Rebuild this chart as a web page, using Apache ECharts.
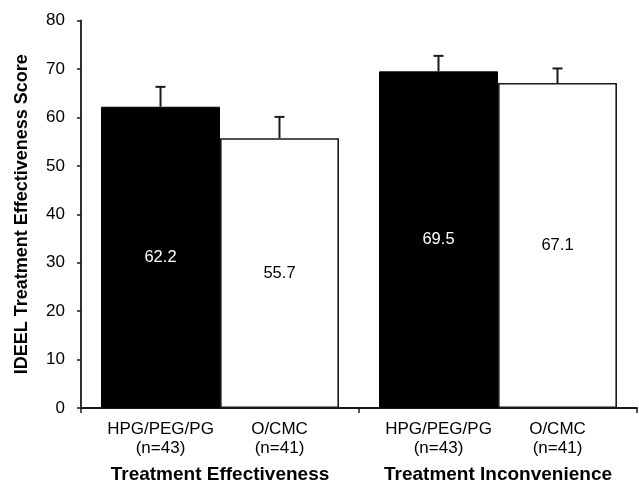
<!DOCTYPE html>
<html>
<head>
<meta charset="utf-8">
<script src="https://cdn.jsdelivr.net/npm/echarts@6/dist/echarts.min.js"></script>
<style>
html,body{margin:0;padding:0;background:#fff;}
#chart{width:639px;height:485px;}
</style>
</head>
<body>
<div id="chart"></div>
<script>
const groups = ['Treatment Effectiveness', 'Treatment Inconvenience'];
const treatments = ['HPG/PEG/PG', 'O/CMC'];
const sampleSizes = ['(n=43)', '(n=41)'];
const hpgScores = [62.2, 69.5];
const ocmcScores = [55.7, 67.1];
const hpgErrors = [4.1, 3.2];
const ocmcErrors = [4.4, 3.0];
const yTickValues = [0, 10, 20, 30, 40, 50, 60, 70, 80];
const yTitle = 'IDEEL Treatment Effectiveness Score';

const FONT = '"Liberation Sans", Arial, sans-serif';
const BAR_W = 119;
const INK = '#1a1a1a';

function errorSeries(scores, errors, seriesIdx) {
  const sign = seriesIdx === 0 ? -1 : 1;
  return {
    type: 'custom',
    z: 5,
    clip: false,
    data: scores.map((v, i) => [i, v, errors[i]]),
    renderItem: function (params, api) {
      const cat = api.value(0);
      const val = api.value(1);
      const err = api.value(2);
      const base = api.coord([cat, val]);
      const top = api.coord([cat, val + err]);
      const zero = api.coord([cat, 0]);
      const x = base[0] + sign * BAR_W / 2;
      return {
        type: 'group',
        children: [
          { type: 'line', shape: { x1: x, y1: base[1], x2: x, y2: top[1] },
            style: { stroke: INK, lineWidth: 2 } },
          { type: 'line', shape: { x1: x - 5, y1: top[1], x2: x + 5, y2: top[1] },
            style: { stroke: INK, lineWidth: 2 } },
          { type: 'text', x: x, y: zero[1] + 12,
            style: { text: treatments[seriesIdx] + '\n' + sampleSizes[seriesIdx],
              fill: '#000', font: '17px ' + FONT, align: 'center', verticalAlign: 'top',
              lineHeight: 19 } }
        ]
      };
    }
  };
}

const chart = echarts.init(document.getElementById('chart'), null, { renderer: 'canvas' });
chart.setOption({
  animation: false,
  backgroundColor: '#fff',
  textStyle: { fontFamily: FONT },
  grid: { left: 81, right: 2, top: 20.5, bottom: 77, containLabel: false },
  xAxis: {
    type: 'category',
    data: groups,
    boundaryGap: true,
    axisLine: { lineStyle: { color: INK, width: 1.8 } },
    axisTick: { show: true, length: 5, lineStyle: { color: INK, width: 1.5 } },
    axisLabel: { interval: 0, margin: 56, fontSize: 19, fontWeight: 'bold', color: '#000', fontFamily: FONT, lineHeight: 21 },
    splitLine: { show: false }
  },
  yAxis: {
    type: 'value',
    min: yTickValues[0],
    max: yTickValues[yTickValues.length - 1],
    interval: yTickValues[1] - yTickValues[0],
    name: yTitle,
    nameLocation: 'middle',
    nameGap: 50,
    nameTextStyle: { fontSize: 18, fontWeight: 'bold', color: '#000', fontFamily: FONT },
    axisLine: { show: true, lineStyle: { color: INK, width: 1.8 } },
    axisTick: { show: true, length: 4, lineStyle: { color: INK, width: 1.5 } },
    axisLabel: { margin: 16, fontSize: 17, color: '#000', fontFamily: FONT },
    splitLine: { show: false }
  },
  series: [
    {
      type: 'bar', name: treatments[0], data: hpgScores,
      barWidth: BAR_W, barGap: '0%',
      itemStyle: { color: '#000', borderColor: '#000', borderWidth: 1 },
      label: { show: true, position: 'inside', color: '#fff', fontSize: 16.5, fontFamily: FONT,
        formatter: p => p.value.toFixed(1) }
    },
    {
      type: 'bar', name: treatments[1], data: ocmcScores,
      barWidth: BAR_W, barGap: '0%',
      itemStyle: { color: '#fff', borderColor: INK, borderWidth: 1.6 },
      label: { show: true, position: 'inside', color: '#000', fontSize: 16.5, fontFamily: FONT,
        formatter: p => p.value.toFixed(1) }
    },
    errorSeries(hpgScores, hpgErrors, 0),
    errorSeries(ocmcScores, ocmcErrors, 1)
  ]
});
</script>
</body>
</html>
